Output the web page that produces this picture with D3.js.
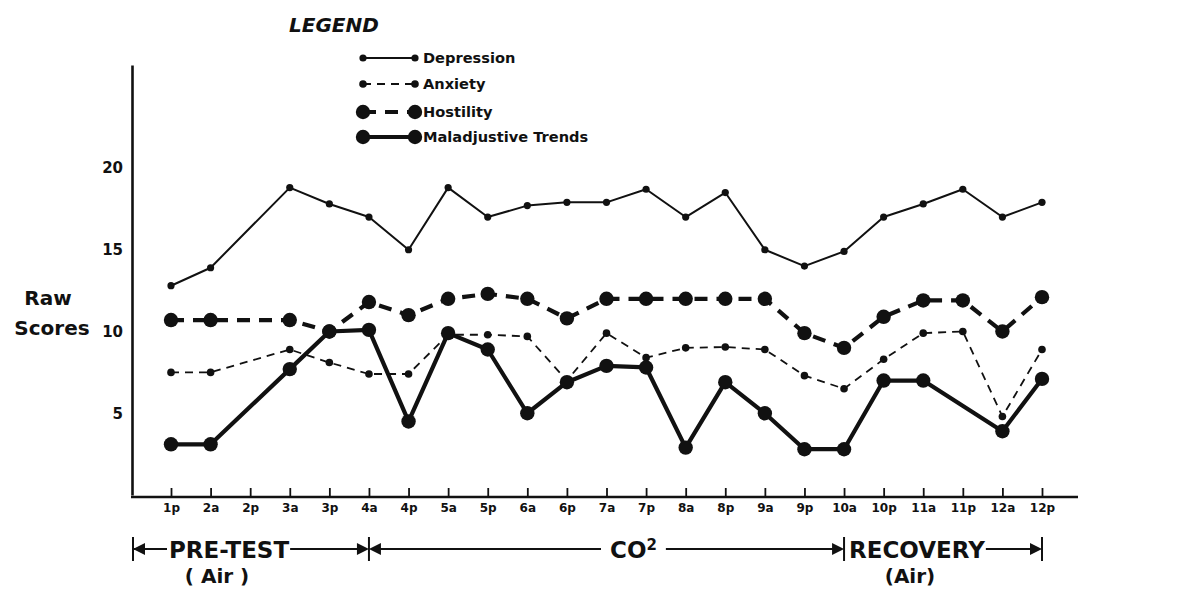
<!DOCTYPE html>
<html>
<head>
<meta charset="utf-8">
<script src="https://cdn.jsdelivr.net/npm/d3@7"></script>
<style>
body { margin: 0; background: #fff; }
text { font-family: "DejaVu Sans", sans-serif; font-weight: bold; fill: #111; }
</style>
</head>
<body>
<svg id="chart" width="1188" height="590"></svg>
<script>
// session hours along the bottom
var hours = ['1p','2a','2p','3a','3p','4a','4p','5a','5p','6a','6p','7a','7p',
             '8a','8p','9a','9p','10a','10p','11a','11p','12a','12p'];

// raw scores (null = no point at that hour)
var depression   = [12.8, 13.9, null, 18.8, 17.8, 17.0, 15.0, 18.8, 17.0, 17.7, 17.9, 17.9, 18.7,
                    17.0, 18.5, 15.0, 14.0, 14.9, 17.0, 17.8, 18.7, 17.0, 17.9];
var anxiety      = [7.5, 7.5, null, 8.9, 8.1, 7.4, 7.4, 9.8, 9.8, 9.7, 7.0, 9.9, 8.4,
                    9.0, 9.05, 8.9, 7.3, 6.5, 8.3, 9.9, 10.0, 4.8, 8.9];
var hostility    = [10.7, 10.7, null, 10.7, 10.0, 11.8, 11.0, 12.0, 12.3, 12.0, 10.8, 12.0, 12.0,
                    12.0, 12.0, 12.0, 9.9, 9.0, 10.9, 11.9, 11.9, 10.0, 12.1];
var maladjustive = [3.1, 3.1, null, 7.7, 10.0, 10.1, 4.5, 9.9, 8.9, 5.0, 6.9, 7.9, 7.8,
                    2.9, 6.9, 5.0, 2.8, 2.8, 7.0, 7.0, null, 3.9, 7.1];

var seriesNames = ['Depression', 'Anxiety', 'Hostility', 'Maladjustive Trends'];
var yTicks = [5, 10, 15, 20];

// phases shown under the axis
var phaseNames = ['PRE-TEST', 'CO', 'RECOVERY'];
var phaseSubs  = ['( Air )', '', '(Air)'];
var phaseEnds  = ['4a', '10a', '12p'];

var svg = d3.select('#chart');

var left = 132, right = 1078, bottom = 497;
var x = d3.scalePoint().domain(hours).range([171, 1042]);
var y = d3.scaleLinear().domain([0, 26.3]).range([495, 65]);

// line look for each series
var styles = [
  {data: depression,   width: 2,   dash: null,    r: 3.6},
  {data: anxiety,      width: 1.8, dash: '8,6',   r: 3.8},
  {data: hostility,    width: 4.2, dash: '13,9',  r: 7.2},
  {data: maladjustive, width: 4.2, dash: null,    r: 7.2}
];

// axes
svg.append('g')
   .attr('transform', 'translate(' + left + ',0)')
   .call(d3.axisLeft(y).tickValues(yTicks).tickSize(0).tickPadding(9))
   .call(function(g) {
     g.select('.domain').attr('stroke', '#111').attr('stroke-width', 2.6);
     g.selectAll('text').style('font-size', '15px').style('font-family', '"DejaVu Sans", sans-serif');
   });

svg.append('line')
   .attr('x1', left - 1).attr('x2', right)
   .attr('y1', bottom).attr('y2', bottom)
   .attr('stroke', '#111').attr('stroke-width', 2.6);

svg.append('g')
   .attr('transform', 'translate(0,' + bottom + ')')
   .call(d3.axisBottom(x).tickSizeInner(-9).tickSizeOuter(0).tickPadding(6))
   .call(function(g) {
     g.select('.domain').remove();
     g.selectAll('.tick line').attr('stroke', '#111').attr('stroke-width', 1.8);
     g.selectAll('text').style('font-size', '12px').style('font-family', '"DejaVu Sans", sans-serif');
   });

// y label
svg.append('text').attr('x', 48).attr('y', 305).attr('text-anchor', 'middle')
   .style('font-size', '20px').text('Raw');
svg.append('text').attr('x', 52).attr('y', 335).attr('text-anchor', 'middle')
   .style('font-size', '20px').text('Scores');

// series
var line = d3.line().x(function(d) { return x(d.h); }).y(function(d) { return y(d.v); });

styles.forEach(function(s) {
  var pts = [];
  for (var i = 0; i < hours.length; ++i) {
    if (s.data[i] != null) pts.push({h: hours[i], v: s.data[i]});
  }
  svg.append('path').datum(pts)
     .attr('d', line)
     .attr('fill', 'none')
     .attr('stroke', '#111')
     .attr('stroke-width', s.width)
     .attr('stroke-dasharray', s.dash)
     .attr('stroke-linejoin', 'round');
  svg.append('g').selectAll('circle').data(pts).enter()
     .append('circle')
     .attr('cx', function(d) { return x(d.h); })
     .attr('cy', function(d) { return y(d.v); })
     .attr('r', s.r)
     .attr('fill', '#111');
});

// legend
svg.append('text').attr('x', 289).attr('y', 32)
   .style('font-size', '20px').style('font-style', 'italic').text('LEGEND');

var legRows = [58, 84, 112, 137];
styles.forEach(function(s, i) {
  var ly = legRows[i];
  var g = svg.append('g');
  g.append('line').attr('x1', 363).attr('x2', 415).attr('y1', ly).attr('y2', ly)
   .attr('stroke', '#111').attr('stroke-width', s.width)
   .attr('stroke-dasharray', s.dash);
  g.selectAll('circle').data([363, 415]).enter().append('circle')
   .attr('cx', function(d) { return d; }).attr('cy', ly)
   .attr('r', s.r).attr('fill', '#111');
  g.append('text').attr('x', 423).attr('y', ly + 5)
   .style('font-size', '14.6px').text(seriesNames[i]);
});

// phase brackets under the axis
var by = 549;
function arrow(tip, dir) {
  // dir = 1 points right, -1 points left
  svg.append('path')
     .attr('d', 'M' + tip + ',' + by + 'L' + (tip - dir * 12) + ',' + (by - 6) +
                'L' + (tip - dir * 12) + ',' + (by + 6) + 'Z')
     .attr('fill', '#111');
}
function seg(a, b) {
  svg.append('line').attr('x1', a).attr('x2', b).attr('y1', by).attr('y2', by)
     .attr('stroke', '#111').attr('stroke-width', 2);
}
function bar(px) {
  svg.append('line').attr('x1', px).attr('x2', px).attr('y1', by - 12).attr('y2', by + 12)
     .attr('stroke', '#111').attr('stroke-width', 2);
}
function textEnd(t) {
  return +t.attr('x') + t.node().getComputedTextLength();
}

var bounds = [left + 1].concat(phaseEnds.map(function(h) { return x(h); }));
bounds.forEach(bar);

// PRE-TEST
var p0 = svg.append('text').attr('x', 169).attr('y', by + 9)
   .style('font-size', '23px').text(phaseNames[0]);
seg(bounds[0], 167); arrow(bounds[0], -1);
seg(textEnd(p0) + 1, bounds[1] - 2); arrow(bounds[1], 1);
svg.append('text').attr('x', 217).attr('y', by + 34).attr('text-anchor', 'middle')
   .style('font-size', '20px').text(phaseSubs[0]);

// CO2
var co = svg.append('text').attr('x', 610).attr('y', by + 9).style('font-size', '23px');
co.append('tspan').text(phaseNames[1]);
co.append('tspan').attr('dy', -8).style('font-size', '15px').text('2');
arrow(bounds[1], -1); seg(bounds[1] + 2, 601);
seg(textEnd(co) + 9, bounds[2] - 2); arrow(bounds[2], 1);

// RECOVERY
var p2 = svg.append('text').attr('x', 849).attr('y', by + 9)
   .style('font-size', '23px').text(phaseNames[2]);
seg(textEnd(p2) + 1, bounds[3] - 2); arrow(bounds[3], 1);
svg.append('text').attr('x', 910).attr('y', by + 34).attr('text-anchor', 'middle')
   .style('font-size', '20px').text(phaseSubs[2]);
</script>
</body>
</html>
